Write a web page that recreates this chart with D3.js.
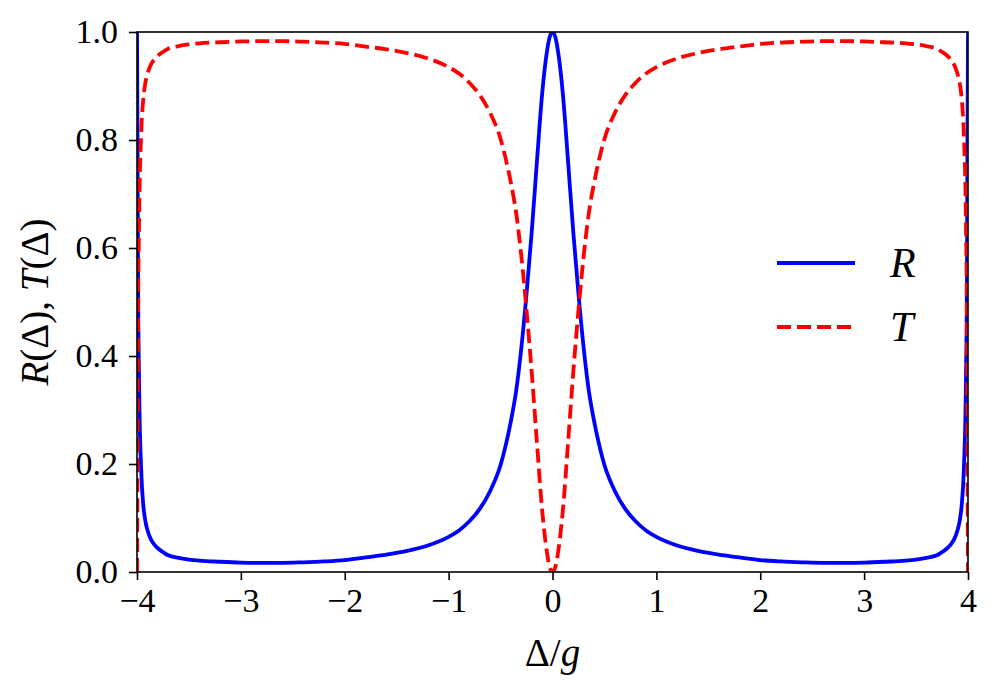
<!DOCTYPE html>
<html>
<head>
<meta charset="utf-8">
<script src="https://cdn.jsdelivr.net/npm/d3@7"></script>
<style>
  body { margin: 0; background: #fff; }
  text { font-family: "Liberation Serif", "DejaVu Serif", serif; fill: #000; }
</style>
</head>
<body>
<div id="chart"></div>
<script>
// detuning Delta/g
const deltas = [
  -4, -3.995, -3.99, -3.98, -3.96, -3.94, -3.92, -3.9, -3.87, -3.83, -3.8, -3.75, -3.7, -3.6, -3.5, -3.4,
  -3.2, -3.0, -2.8, -2.6, -2.4, -2.2, -2.0, -1.8, -1.6, -1.4, -1.2, -1.0, -0.9, -0.8, -0.7, -0.6,
  -0.5, -0.45, -0.4, -0.35, -0.3, -0.25, -0.2, -0.15, -0.1, -0.05, -0.025, 0,
  0.025, 0.05, 0.1, 0.15, 0.2, 0.25, 0.3, 0.35, 0.4, 0.45, 0.5, 0.6, 0.7, 0.8, 0.9, 1.0,
  1.2, 1.4, 1.6, 1.8, 2.0, 2.2, 2.4, 2.6, 2.8, 3.0, 3.2, 3.4, 3.5, 3.6, 3.7, 3.75,
  3.8, 3.83, 3.87, 3.9, 3.92, 3.94, 3.96, 3.98, 3.99, 3.995, 4
];
// reflection R
const rValues = [
  1.0, 0.80, 0.55, 0.35, 0.19, 0.125, 0.095, 0.078, 0.062, 0.050, 0.044, 0.037, 0.031, 0.026, 0.023, 0.021,
  0.019, 0.0175, 0.017, 0.017, 0.018, 0.0195, 0.022, 0.027, 0.032, 0.039, 0.049, 0.065, 0.077, 0.094, 0.117, 0.150,
  0.198, 0.235, 0.28, 0.335, 0.415, 0.515, 0.63, 0.76, 0.885, 0.968, 0.992, 1.0,
  0.992, 0.968, 0.885, 0.76, 0.63, 0.515, 0.415, 0.335, 0.28, 0.235, 0.198, 0.150, 0.117, 0.094, 0.077, 0.065,
  0.049, 0.039, 0.032, 0.027, 0.022, 0.0195, 0.018, 0.017, 0.017, 0.0175, 0.019, 0.021, 0.023, 0.026, 0.031, 0.037,
  0.044, 0.050, 0.062, 0.078, 0.095, 0.125, 0.19, 0.35, 0.55, 0.80, 1.0
];
// transmission T
const tValues = [
  0, 0.20, 0.45, 0.65, 0.81, 0.875, 0.905, 0.922, 0.938, 0.95, 0.956, 0.963, 0.969, 0.974, 0.977, 0.979,
  0.981, 0.9825, 0.983, 0.983, 0.982, 0.9805, 0.978, 0.973, 0.968, 0.961, 0.951, 0.935, 0.923, 0.906, 0.883, 0.85,
  0.802, 0.765, 0.72, 0.665, 0.585, 0.485, 0.37, 0.24, 0.115, 0.032, 0.008, 0,
  0.008, 0.032, 0.115, 0.24, 0.37, 0.485, 0.585, 0.665, 0.72, 0.765, 0.802, 0.85, 0.883, 0.906, 0.923, 0.935,
  0.951, 0.961, 0.968, 0.973, 0.978, 0.9805, 0.982, 0.983, 0.983, 0.9825, 0.981, 0.979, 0.977, 0.974, 0.969, 0.963,
  0.956, 0.95, 0.938, 0.922, 0.905, 0.875, 0.81, 0.65, 0.45, 0.20, 0
];
const xTicks = [-4, -3, -2, -1, 0, 1, 2, 3, 4];
const yTicks = [0, 0.2, 0.4, 0.6, 0.8, 1.0];
const seriesNames = ["R", "T"];

const size = {
  width: 997,
  height: 693,
  margin: { top: 32, right: 29, bottom: 121, left: 137 }
};

const drawChart = function(size) {
  const w = size.width - size.margin.left - size.margin.right;
  const h = size.height - size.margin.top - size.margin.bottom;

  const svg = d3.select("#chart").append("svg")
    .attr("width", size.width)
    .attr("height", size.height);

  svg.append("defs").append("clipPath").attr("id", "plotClip")
    .append("rect").attr("width", w).attr("height", h);

  const g = svg.append("g")
    .attr("transform", `translate(${size.margin.left},${size.margin.top})`);

  const x = d3.scaleLinear().domain([-4, 4]).range([0, w]);
  const y = d3.scaleLinear().domain([0, 1]).range([h, 0]);

  const minus = (v) => (v < 0 ? "\u2212" + Math.abs(v) : String(v));

  // axes
  const xAxis = g.append("g")
    .attr("transform", `translate(0,${h})`)
    .call(d3.axisBottom(x).tickValues(xTicks).tickFormat(minus).tickSizeInner(8).tickSizeOuter(0).tickPadding(8));
  const yAxis = g.append("g")
    .call(d3.axisLeft(y).tickValues(yTicks).tickFormat(d3.format(".1f")).tickSizeInner(8).tickSizeOuter(0).tickPadding(11));

  [xAxis, yAxis].forEach((a) => {
    a.select(".domain").remove();
    a.selectAll(".tick line").attr("stroke", "#000").attr("stroke-width", 1.6);
    a.selectAll(".tick text").attr("font-size", 34).attr("font-family", "Liberation Serif, serif");
  });

  const rows = deltas.map((d, i) => ({ d: d, r: rValues[i], t: tValues[i] }));

  const plot = g.append("g").attr("clip-path", "url(#plotClip)");

  const lineR = d3.line().x((p) => x(p.d)).y((p) => y(p.r)).curve(d3.curveMonotoneX);
  const lineT = d3.line().x((p) => x(p.d)).y((p) => y(p.t)).curve(d3.curveMonotoneX);

  plot.append("path").datum(rows)
    .attr("d", lineR)
    .attr("fill", "none")
    .attr("stroke", "#0000ff")
    .attr("stroke-width", 3.8);

  plot.append("path").datum(rows)
    .attr("d", lineT)
    .attr("fill", "none")
    .attr("stroke", "#ff0000")
    .attr("stroke-width", 3.8)
    .attr("stroke-dasharray", "14,6");

  // frame
  g.append("rect")
    .attr("width", w).attr("height", h)
    .attr("fill", "none").attr("stroke", "#000").attr("stroke-width", 1.6);

  // legend
  const legend = g.append("g").attr("transform", `translate(${777 - size.margin.left},${263 - size.margin.top})`);
  const styles = [{ color: "#0000ff", dash: null }, { color: "#ff0000", dash: "14,6" }];
  seriesNames.forEach((name, i) => {
    const row = legend.append("g").attr("transform", `translate(0,${i * 64})`);
    row.append("line")
      .attr("x1", 0).attr("x2", 78).attr("y1", 0).attr("y2", 0)
      .attr("stroke", styles[i].color).attr("stroke-width", 3.8)
      .attr("stroke-dasharray", styles[i].dash);
    row.append("text")
      .attr("x", 113).attr("y", 14)
      .attr("font-size", 42).attr("font-style", "italic")
      .text(name);
  });

  // axis labels
  const xl = svg.append("text")
    .attr("x", size.margin.left + w / 2).attr("y", 666)
    .attr("text-anchor", "middle").attr("font-size", 39);
  xl.append("tspan").text("\u0394/");
  xl.append("tspan").attr("font-style", "italic").text("g");

  const yl = svg.append("text")
    .attr("transform", `translate(48,${size.margin.top + h / 2}) rotate(-90)`)
    .attr("text-anchor", "middle").attr("font-size", 39);
  yl.append("tspan").attr("font-style", "italic").text("R");
  yl.append("tspan").text("(\u0394), ");
  yl.append("tspan").attr("font-style", "italic").text("T");
  yl.append("tspan").text("(\u0394)");
};

drawChart(size);
</script>
</body>
</html>
